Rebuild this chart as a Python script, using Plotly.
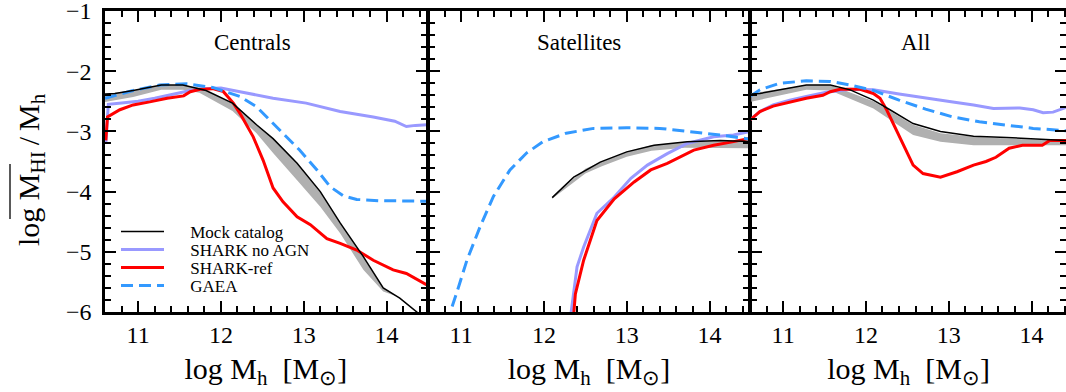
import plotly.graph_objects as go

# ---------------- data ----------------
# Centrals
cen_mock_x = [10.6, 10.72, 10.94, 11.14, 11.28, 11.54, 11.82, 12.14, 12.43, 12.63, 12.92, 13.2, 13.44, 13.72, 13.96, 14.16, 14.34, 14.5]
cen_mock_y = [-2.38, -2.37, -2.32, -2.27, -2.23, -2.23, -2.32, -2.53, -2.89, -3.12, -3.53, -4.0, -4.52, -5.08, -5.6, -5.77, -5.97, -6.15]
cen_band_x = [10.6, 10.94, 11.28, 11.54, 11.74, 12.14, 12.43, 12.63, 12.92, 13.2, 13.44, 13.72, 13.96, 14.12]
cen_band_lo = [-2.51, -2.43, -2.31, -2.31, -2.36, -2.66, -3.03, -3.36, -3.81, -4.25, -4.69, -5.3, -5.66, -5.74]
cen_band_hi = [-2.38, -2.32, -2.23, -2.23, -2.27, -2.53, -2.89, -3.12, -3.53, -4.0, -4.52, -5.08, -5.6, -5.74]
cen_noagn_x = [10.61, 10.64, 10.8, 11.0, 11.2, 11.45, 11.63, 11.8, 12.0, 12.23, 12.43, 12.63, 13.03, 13.44, 13.84, 14.1, 14.24, 14.35, 14.5]
cen_noagn_y = [-3.2, -2.55, -2.53, -2.5, -2.45, -2.38, -2.32, -2.29, -2.28, -2.34, -2.4, -2.45, -2.53, -2.67, -2.76, -2.83, -2.92, -2.9, -2.89]
cen_ref_x = [10.61, 10.63, 10.78, 10.94, 11.14, 11.35, 11.55, 11.63, 11.75, 11.9, 12.03, 12.15, 12.23, 12.39, 12.51, 12.63, 12.75, 12.92, 13.08, 13.28, 13.44, 13.64, 13.84, 14.08, 14.24, 14.46, 14.5]
cen_ref_y = [-3.15, -2.76, -2.64, -2.56, -2.51, -2.45, -2.41, -2.34, -2.30, -2.29, -2.34, -2.53, -2.70, -3.09, -3.48, -3.94, -4.17, -4.42, -4.55, -4.78, -4.86, -4.97, -5.14, -5.30, -5.36, -5.52, -5.56]
cen_gaea_x = [10.6, 10.94, 11.26, 11.59, 11.9, 12.23, 12.43, 12.71, 12.95, 13.16, 13.32, 13.48, 13.64, 13.9, 14.5]
cen_gaea_y = [-2.45, -2.32, -2.23, -2.21, -2.27, -2.42, -2.59, -2.98, -3.31, -3.64, -3.92, -4.07, -4.13, -4.15, -4.16]

# Satellites
sat_mock_x = [12.1, 12.36, 12.68, 13.0, 13.33, 13.73, 14.13, 14.45, 14.5]
sat_mock_y = [-4.10, -3.76, -3.51, -3.34, -3.23, -3.17, -3.15, -3.17, -3.17]
sat_band_x = [12.1, 12.5, 12.7, 13.0, 13.3, 13.7, 14.1, 14.5]
sat_band_lo = [-4.12, -3.70, -3.58, -3.42, -3.32, -3.27, -3.27, -3.28]
sat_band_hi = [-4.10, -3.62, -3.50, -3.34, -3.23, -3.17, -3.15, -3.17]
sat_noagn_x = [12.31, 12.4, 12.48, 12.64, 12.85, 13.05, 13.25, 13.49, 13.73, 14.05, 14.29, 14.45, 14.5]
sat_noagn_y = [-6.2, -5.25, -4.92, -4.36, -4.09, -3.78, -3.56, -3.37, -3.2, -3.09, -3.06, -3.01, -3.0]
sat_ref_x = [12.35, 12.38, 12.48, 12.64, 12.85, 13.09, 13.29, 13.49, 13.81, 14.05, 14.29, 14.45, 14.5]
sat_ref_y = [-6.2, -5.7, -5.14, -4.48, -4.12, -3.84, -3.64, -3.53, -3.31, -3.23, -3.17, -3.12, -3.11]
sat_gaea_x = [10.84, 10.87, 10.97, 11.07, 11.23, 11.39, 11.59, 11.79, 11.99, 12.27, 12.6, 13.0, 13.4, 13.81, 14.13, 14.45, 14.5]
sat_gaea_y = [-6.2, -6.0, -5.58, -5.14, -4.58, -4.08, -3.64, -3.36, -3.17, -3.03, -2.95, -2.94, -2.95, -3.01, -3.06, -3.12, -3.13]

# All
all_mock_x = [10.6, 10.72, 11.28, 11.57, 11.81, 12.09, 12.29, 12.57, 12.9, 13.3, 13.7, 14.1, 14.42]
all_mock_y = [-2.38, -2.37, -2.23, -2.23, -2.31, -2.48, -2.64, -2.87, -3.0, -3.08, -3.10, -3.13, -3.15]
all_band_x = [10.6, 11.28, 11.57, 12.09, 12.57, 12.9, 13.3, 13.7, 14.42]
all_band_lo = [-2.51, -2.31, -2.32, -2.62, -3.06, -3.17, -3.23, -3.23, -3.23]
all_band_hi = [-2.37, -2.23, -2.23, -2.50, -2.89, -3.03, -3.09, -3.12, -3.15]
all_noagn_x = [10.6, 10.72, 10.88, 11.08, 11.28, 11.52, 11.81, 12.09, 12.4, 12.72, 13.05, 13.3, 13.54, 13.86, 14.02, 14.14, 14.26, 14.42]
all_noagn_y = [-2.81, -2.67, -2.56, -2.48, -2.42, -2.35, -2.30, -2.31, -2.38, -2.45, -2.51, -2.56, -2.62, -2.61, -2.64, -2.69, -2.68, -2.60]
all_ref_x = [10.6, 10.72, 10.88, 11.08, 11.28, 11.48, 11.57, 11.69, 11.93, 12.09, 12.17, 12.25, 12.37, 12.49, 12.57, 12.69, 12.9, 13.1, 13.3, 13.45, 13.57, 13.73, 13.89, 14.13, 14.22, 14.42]
all_ref_y = [-2.81, -2.67, -2.58, -2.51, -2.45, -2.40, -2.34, -2.30, -2.30, -2.37, -2.45, -2.64, -2.98, -3.31, -3.56, -3.70, -3.76, -3.67, -3.56, -3.50, -3.43, -3.28, -3.23, -3.23, -3.15, -3.15]
all_gaea_x = [10.6, 10.72, 10.96, 11.28, 11.57, 11.81, 12.09, 12.4, 12.72, 13.05, 13.37, 13.7, 14.02, 14.42]
all_gaea_y = [-2.42, -2.31, -2.20, -2.16, -2.17, -2.23, -2.32, -2.48, -2.63, -2.76, -2.84, -2.89, -2.95, -2.99]

panel_titles = ["Centrals", "Satellites", "All"]
series_names = ["Mock catalog", "SHARK no AGN", "SHARK-ref", "GAEA"]
x_tickvals = [11, 12, 13, 14]
y_tickvals = [-6, -5, -4, -3, -2, -1]

# ---------------- styles ----------------
FONT = "Liberation Serif, Times New Roman, serif"
C_MOCK = "black"
C_BAND = "rgb(176,176,176)"
C_NOAGN = "rgb(153,153,255)"
C_REF = "rgb(255,0,0)"
C_GAEA = "rgb(51,153,255)"

panels = [
    (cen_mock_x, cen_mock_y, cen_band_x, cen_band_lo, cen_band_hi, cen_noagn_x, cen_noagn_y, cen_ref_x, cen_ref_y, cen_gaea_x, cen_gaea_y),
    (sat_mock_x, sat_mock_y, sat_band_x, sat_band_lo, sat_band_hi, sat_noagn_x, sat_noagn_y, sat_ref_x, sat_ref_y, sat_gaea_x, sat_gaea_y),
    (all_mock_x, all_mock_y, all_band_x, all_band_lo, all_band_hi, all_noagn_x, all_noagn_y, all_ref_x, all_ref_y, all_gaea_x, all_gaea_y),
]

W, H = 1066, 392
ML, MR, MT, MB = 105, 0, 11, 80
pw = W - ML - MR
ph = H - MT - MB
PX_PER_UNIT = 82.8
LW = 2.5
ext = [(105, 428 - LW / 2), (428 + LW / 2, 750 - LW / 2), (750 + LW / 2, 1066)]
starts = [105, 428, 750]
domains = [[(a - ML) / pw, (b - ML) / pw] for a, b in ext]
xranges = [[10.6 + (a - s) / PX_PER_UNIT, 10.6 + (b - s) / PX_PER_UNIT] for (a, b), s in zip(ext, starts)]

fig = go.Figure()
for i, p in enumerate(panels):
    mx, my, bx, blo, bhi, nx, ny, rx, ry, gx, gy = p
    xa = "x" if i == 0 else f"x{i+1}"
    ya = "y" if i == 0 else f"y{i+1}"
    fig.add_trace(go.Scatter(x=list(bx) + list(bx)[::-1], y=list(bhi) + list(blo)[::-1],
                             fill="toself", fillcolor=C_BAND, mode="lines",
                             line=dict(width=0, color=C_BAND), showlegend=False,
                             hoverinfo="skip", xaxis=xa, yaxis=ya))
    fig.add_trace(go.Scatter(x=nx, y=ny, mode="lines", name=series_names[1],
                             line=dict(color=C_NOAGN, width=3), showlegend=False,
                             xaxis=xa, yaxis=ya))
    fig.add_trace(go.Scatter(x=rx, y=ry, mode="lines", name=series_names[2],
                             line=dict(color=C_REF, width=3), showlegend=False,
                             xaxis=xa, yaxis=ya))
    fig.add_trace(go.Scatter(x=gx, y=gy, mode="lines", name=series_names[3],
                             line=dict(color=C_GAEA, width=3, dash="12px,6px"), showlegend=False,
                             xaxis=xa, yaxis=ya))
    fig.add_trace(go.Scatter(x=mx, y=my, mode="lines", name=series_names[0],
                             line=dict(color=C_MOCK, width=1.5), showlegend=False,
                             xaxis=xa, yaxis=ya))

# legend entries: one legend per row so the row spacing can match
PAD = "\u00a0" * 5
legend_rows_px = [232, 250, 268, 286]
styles = [(C_MOCK, 1.5, "solid"), (C_NOAGN, 3, "solid"), (C_REF, 3, "solid"), (C_GAEA, 3, "12px,6px")]
legend_layout = {}
for k, (name, (col, w, dash)) in enumerate(zip(series_names, styles)):
    lname = "legend" if k == 0 else f"legend{k+1}"
    fig.add_trace(go.Scatter(x=[None], y=[None], mode="lines", name=PAD + name,
                             line=dict(color=col, width=w, dash=dash), legend=lname,
                             xaxis="x", yaxis="y"))
    legend_layout[lname] = dict(x=(116 - ML) / pw, y=(312 - legend_rows_px[k]) / ph,
                                xanchor="left", yanchor="middle",
                                bgcolor="rgba(0,0,0,0)",
                                font=dict(family=FONT, size=17, color="black"),
                                itemwidth=43)

axis_common = dict(showline=True, linecolor="black", linewidth=LW, mirror="allticks",
                   ticks="inside", tickwidth=2, tickcolor="black", ticklen=11,
                   showgrid=False, zeroline=False, automargin=False,
                   ticklabeloverflow="allow",
                   tickfont=dict(family=FONT, size=24, color="black"))

for i in range(3):
    sfx = "" if i == 0 else str(i + 1)
    fig.layout["xaxis" + sfx] = dict(
        axis_common, domain=domains[i], range=xranges[i], anchor="y" + sfx,
        tickvals=x_tickvals, ticklabelstandoff=-1,
        minor=dict(dtick=0.2, tick0=10.6, ticks="inside", ticklen=6, tickwidth=1.5, tickcolor="black"),
        title=dict(text="log M<sub>h</sub>  [M<sub>⊙</sub>]", font=dict(family=FONT, size=30, color="black"),
                   standoff=12))
    fig.layout["yaxis" + sfx] = dict(
        axis_common, domain=[0, 1], range=[-6, -1], anchor="x" + sfx,
        tickvals=y_tickvals, showticklabels=(i == 0), ticklabelstandoff=6,
        minor=dict(dtick=0.2, tick0=-6, ticks="inside", ticklen=6, tickwidth=1.5, tickcolor="black"))

# y-axis title as rotated annotation with overline shape
fig.add_annotation(text="log M<sub>HI</sub>\u2009/\u2009M<sub>h</sub>", textangle=-90,
                   x=(31 - ML) / pw, y=(312 - 170) / ph, xref="paper", yref="paper",
                   xanchor="center", yanchor="middle", showarrow=False,
                   font=dict(family=FONT, size=30, color="black"))
fig.add_shape(type="line", xref="paper", yref="paper",
              x0=(10 - ML) / pw, x1=(10 - ML) / pw, y0=(312 - 164) / ph, y1=(312 - 219) / ph,
              line=dict(color="black", width=1.3))

# panel titles (positions in each panel's data coordinates)
title_x = [12.38, 12.42, 12.6]
for i, t in enumerate(panel_titles):
    sfx = "" if i == 0 else str(i + 1)
    fig.add_annotation(text=t, x=title_x[i], y=-1.515, xref="x" + sfx, yref="y" + sfx,
                       showarrow=False, font=dict(family=FONT, size=23, color="black"))

fig.update_layout(
    width=W, height=H, margin=dict(l=ML, r=MR, t=MT, b=MB),
    paper_bgcolor="white", plot_bgcolor="white",
    **legend_layout,
)

# remove the browser's default 8px page margin so the figure sits at the window origin
fig.write_html("out.html", config={"displayModeBar": False},
               post_script="document.body.style.margin='0px';")
